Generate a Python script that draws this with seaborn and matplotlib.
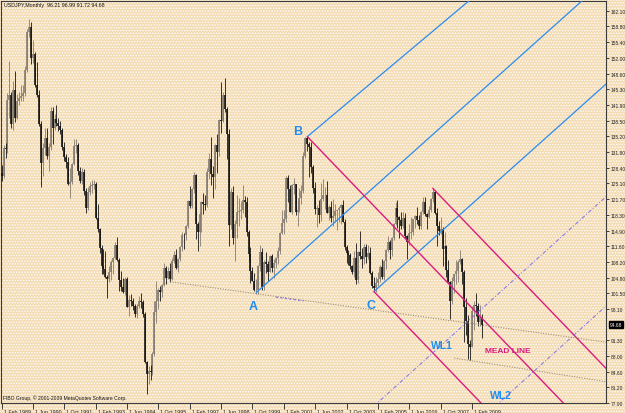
import numpy as np
import pandas as pd
import matplotlib
matplotlib.use("Agg")
import matplotlib.pyplot as plt
import matplotlib.transforms as mtransforms
from matplotlib.patches import Rectangle
import seaborn as sns

# ---------------- data (USDJPY monthly, Feb 1989 .. Jul 2009) ----------------
opens = [
    127.3, 126.6, 132.6, 132.5, 142.9, 144.0, 137.9, 145.1, 139.2, 142.8, 143.5,            # 1989 Feb-Dec
    143.8, 144.4, 149.5, 157.6, 158.6, 151.9, 152.9, 146.3, 144.1, 137.9, 129.4, 132.6,     # 1990
    134.8, 131.0, 132.9, 140.6, 137.0, 138.9, 138.1, 137.3, 136.6, 132.9, 130.8, 129.6,     # 1991
    124.9, 125.3, 129.2, 133.1, 133.2, 127.8, 125.6, 127.6, 123.4, 119.8, 123.1, 124.4,     # 1992
    124.8, 124.9, 117.6, 115.3, 111.1, 107.3, 106.6, 104.9, 104.5, 105.9, 108.2, 109.1,     # 1993
    111.9, 108.6, 104.3, 102.8, 101.8, 104.5, 98.5, 100.0, 99.8, 98.8, 97.0, 98.8,          # 1994
    99.7, 99.5, 97.0, 86.6, 84.1, 84.7, 84.6, 88.4, 97.4, 99.7, 102.1, 101.6,               # 1995
    103.3, 106.8, 104.8, 106.3, 104.4, 108.4, 109.7, 106.8, 108.9, 111.4, 114.0, 113.9,     # 1996
    115.9, 121.2, 120.2, 123.9, 126.9, 116.4, 114.6, 118.5, 121.0, 120.7, 120.5, 127.6,     # 1997
    130.3, 127.1, 126.5, 133.3, 131.8, 138.6, 138.4, 144.0, 141.1, 135.7, 116.2, 123.3,     # 1998
    113.3, 116.3, 118.9, 119.1, 119.4, 121.5, 121.1, 114.7, 109.9, 106.3, 104.1, 102.1,     # 1999
    102.2, 107.4, 110.3, 102.7, 108.1, 107.8, 106.1, 109.5, 106.8, 108.0, 109.0, 110.5,     # 2000
    114.4, 116.5, 117.4, 126.2, 123.8, 119.0, 124.7, 125.0, 118.9, 119.3, 122.0, 123.5,     # 2001
    131.0, 134.7, 133.6, 132.8, 128.6, 124.0, 119.5, 119.8, 118.2, 121.7, 122.5, 122.5,     # 2002
    118.7, 119.9, 117.7, 118.1, 119.1, 119.3, 119.8, 120.5, 116.8, 111.4, 110.0, 109.6,     # 2003
    107.2, 105.9, 109.1, 104.2, 110.4, 109.5, 108.9, 111.4, 109.2, 110.1, 105.8, 103.0,     # 2004
    102.6, 103.7, 104.6, 107.1, 104.9, 108.3, 110.8, 112.5, 110.7, 113.4, 116.4, 119.8,     # 2005
    117.8, 117.2, 115.9, 117.7, 113.7, 112.4, 114.4, 114.6, 117.4, 118.1, 117.1, 115.8,     # 2006
    119.0, 121.0, 118.4, 117.8, 119.4, 121.7, 123.2, 118.6, 115.8, 114.8, 115.3, 111.0,     # 2007
    111.7, 106.4, 103.9, 99.7, 104.0, 105.5, 106.2, 108.1, 108.8, 106.0, 98.5, 95.4,        # 2008
    90.6, 89.9, 97.6, 98.9, 98.6, 95.3, 96.21,                                              # 2009 Jan-Jul
]
highs = [
    129.0, 133.2, 133.8, 144.5, 151.4, 144.6, 147.0, 149.1, 144.3, 144.6, 146.1,
    146.3, 150.3, 158.3, 160.4, 159.7, 155.8, 153.2, 151.2, 145.2, 138.5, 133.8, 136.9,
    137.0, 133.7, 141.4, 141.4, 140.0, 142.0, 139.1, 138.5, 137.0, 133.9, 131.3, 130.7,
    128.4, 129.5, 134.6, 134.6, 133.8, 128.6, 128.4, 128.2, 124.0, 124.3, 125.3, 125.7,
    125.8, 125.3, 120.6, 115.5, 111.8, 111.0, 110.6, 105.4, 107.2, 108.6, 109.3, 112.5,
    113.6, 109.0, 106.2, 104.7, 105.0, 105.0, 101.0, 101.3, 100.4, 99.2, 99.2, 100.9,
    101.5, 99.9, 97.4, 86.9, 85.9, 86.0, 88.8, 99.8, 104.0, 102.6, 103.1, 103.5,
    107.9, 107.4, 107.0, 108.0, 109.0, 110.6, 111.0, 109.0, 111.6, 114.6, 114.3, 116.2,
    121.5, 124.5, 124.1, 127.5, 127.0, 116.8, 119.0, 121.2, 123.0, 122.6, 128.4, 131.6,
    135.0, 128.8, 133.6, 135.6, 138.8, 146.8, 144.6, 147.6, 141.4, 136.8, 124.0, 124.4,
    117.2, 122.5, 122.0, 121.2, 124.8, 122.4, 122.1, 115.0, 111.4, 107.0, 105.7, 104.5,
    107.5, 111.8, 111.2, 108.6, 110.2, 108.3, 109.7, 109.8, 108.8, 109.2, 111.4, 114.6,
    119.4, 119.3, 126.6, 126.9, 124.8, 125.0, 126.2, 125.0, 121.7, 124.0, 124.7, 131.9,
    135.0, 135.2, 134.0, 133.9, 129.0, 125.3, 120.4, 121.5, 125.1, 126.0, 124.3, 125.6,
    120.3, 121.2, 121.6, 120.6, 119.4, 120.1, 120.6, 121.4, 117.3, 111.8, 110.8, 110.0,
    107.6, 110.6, 112.2, 110.5, 114.9, 111.2, 112.0, 112.0, 111.8, 111.4, 106.3, 105.0,
    104.9, 106.1, 107.5, 108.8, 108.5, 111.0, 113.7, 112.8, 113.5, 116.5, 121.0, 121.4,
    118.0, 119.0, 119.0, 118.7, 114.0, 116.3, 117.8, 117.4, 118.3, 119.9, 118.3, 119.1,
    122.2, 122.2, 118.6, 120.2, 122.0, 124.1, 123.7, 119.8, 117.0, 117.9, 115.6, 114.7,
    111.8, 108.6, 104.0, 105.0, 105.5, 108.6, 108.6, 110.7, 109.1, 106.4, 100.5, 96.8,
    91.3, 98.8, 99.7, 101.4, 99.3, 98.9, 96.99,
]
lows = [
    125.6, 126.2, 130.5, 131.5, 139.0, 136.9, 136.5, 138.2, 138.8, 141.8, 142.7,
    142.8, 143.9, 148.9, 156.5, 150.8, 151.0, 145.7, 143.6, 137.4, 124.3, 126.7, 131.2,
    130.3, 127.7, 132.2, 133.6, 136.5, 137.4, 136.3, 135.6, 132.3, 129.8, 128.4, 124.8,
    122.0, 124.9, 129.0, 131.5, 126.9, 125.2, 125.0, 122.5, 118.6, 119.4, 122.6, 122.9,
    123.8, 117.3, 114.6, 110.0, 105.5, 105.6, 104.8, 100.4, 103.8, 104.2, 105.6, 108.7,
    108.4, 101.9, 101.9, 101.4, 101.0, 98.4, 96.6, 98.6, 97.9, 96.3, 96.2, 98.2,
    98.2, 96.3, 86.5, 79.8, 81.9, 82.9, 83.8, 88.0, 95.0, 98.0, 99.8, 100.6,
    103.0, 103.4, 104.5, 103.8, 104.2, 107.9, 106.7, 106.0, 108.4, 110.6, 110.9, 112.9,
    115.5, 119.8, 119.7, 123.0, 113.0, 110.6, 111.6, 114.7, 118.5, 119.3, 120.0, 125.9,
    124.7, 121.9, 123.9, 127.3, 131.0, 135.8, 138.2, 140.5, 130.3, 111.6, 115.2, 112.0,
    108.3, 113.3, 115.9, 117.4, 118.6, 117.8, 113.7, 108.6, 103.6, 104.0, 101.9, 101.3,
    101.3, 106.3, 102.2, 102.2, 105.7, 104.0, 105.9, 106.0, 104.7, 106.9, 107.8, 109.9,
    114.2, 114.2, 116.8, 121.0, 118.8, 118.5, 122.8, 118.3, 115.8, 119.0, 120.7, 123.0,
    130.4, 132.0, 126.4, 127.3, 122.9, 118.4, 115.6, 116.6, 117.0, 121.3, 119.6, 118.6,
    117.1, 116.8, 115.9, 116.7, 115.1, 116.8, 116.4, 116.7, 110.8, 107.9, 107.6, 106.7,
    105.6, 104.9, 103.4, 103.7, 108.7, 106.9, 107.8, 108.0, 108.7, 105.6, 102.5, 101.8,
    101.7, 103.1, 103.9, 104.4, 104.2, 106.6, 110.2, 108.8, 109.5, 112.9, 116.2, 115.4,
    113.4, 115.3, 115.5, 113.3, 108.9, 111.8, 113.2, 113.9, 115.4, 116.4, 115.2, 115.3,
    118.5, 118.0, 115.2, 117.6, 118.9, 121.1, 118.5, 111.6, 113.9, 114.2, 107.2, 110.1,
    104.9, 103.8, 95.8, 99.2, 101.4, 103.5, 103.8, 107.7, 103.5, 90.9, 92.5, 87.2,
    87.1, 89.8, 93.5, 96.5, 94.4, 94.5, 91.72,
]
closes = [
    126.6, 132.6, 132.5, 142.9, 144.0, 137.9, 145.1, 139.2, 142.8, 143.5, 143.8,
    144.4, 149.5, 157.6, 158.6, 151.9, 152.9, 146.3, 144.1, 137.9, 129.4, 132.6, 134.8,
    131.0, 132.9, 140.6, 137.0, 138.9, 138.1, 137.3, 136.6, 132.9, 130.8, 129.6, 124.9,
    125.3, 129.2, 133.1, 133.2, 127.8, 125.6, 127.6, 123.4, 119.8, 123.1, 124.4, 124.8,
    124.9, 117.6, 115.3, 111.1, 107.3, 106.6, 104.9, 104.5, 105.9, 108.2, 109.1, 111.9,
    108.6, 104.3, 102.8, 101.8, 104.5, 98.5, 100.0, 99.8, 98.8, 97.0, 98.8, 99.7,
    99.5, 97.0, 86.6, 84.1, 84.7, 84.6, 88.4, 97.4, 99.7, 102.1, 101.6, 103.3,
    106.8, 104.8, 106.3, 104.4, 108.4, 109.7, 106.8, 108.9, 111.4, 114.0, 113.9, 115.9,
    121.2, 120.2, 123.9, 126.9, 116.4, 114.6, 118.5, 121.0, 120.7, 120.5, 127.6, 130.3,
    127.1, 126.5, 133.3, 131.8, 138.6, 138.4, 144.0, 141.1, 135.7, 116.2, 123.3, 113.3,
    116.3, 118.9, 119.1, 119.4, 121.5, 121.1, 114.7, 109.9, 106.3, 104.1, 102.1, 102.2,
    107.4, 110.3, 102.7, 108.1, 107.8, 106.1, 109.5, 106.8, 108.0, 109.0, 110.5, 114.4,
    116.5, 117.4, 126.2, 123.8, 119.0, 124.7, 125.0, 118.9, 119.3, 122.0, 123.5, 131.0,
    134.7, 133.6, 132.8, 128.6, 124.0, 119.5, 119.8, 118.2, 121.7, 122.5, 122.5, 118.7,
    119.9, 117.7, 118.1, 119.1, 119.3, 119.8, 120.5, 116.8, 111.4, 110.0, 109.6, 107.2,
    105.9, 109.1, 104.2, 110.4, 109.5, 108.9, 111.4, 109.2, 110.1, 105.8, 103.0, 102.6,
    103.7, 104.6, 107.1, 104.9, 108.3, 110.8, 112.5, 110.7, 113.4, 116.4, 119.8, 117.8,
    117.2, 115.9, 117.7, 113.7, 112.4, 114.4, 114.6, 117.4, 118.1, 117.1, 115.8, 119.0,
    121.0, 118.4, 117.8, 119.4, 121.7, 123.2, 118.6, 115.8, 114.8, 115.3, 111.0, 111.7,
    106.4, 103.9, 99.7, 104.0, 105.5, 106.2, 108.1, 108.8, 106.0, 98.5, 95.4, 90.6,
    89.9, 97.6, 98.9, 98.6, 95.3, 96.4, 94.68,
]

# date axis: month index (0 = Feb 1989) and its labels
date_tick_months = [0, 16, 32, 48, 64, 80, 96, 112, 128, 144, 160, 176, 192, 208, 224, 240]
date_tick_labels = ["1 Feb 1989", "1 Jun 1990", "1 Oct 1991", "1 Feb 1993", "1 Jun 1994",
                    "1 Oct 1995", "1 Feb 1997", "1 Jun 1998", "1 Oct 1999", "1 Feb 2001",
                    "1 Jun 2002", "1 Oct 2003", "1 Feb 2005", "1 Jun 2006", "1 Oct 2007",
                    "1 Feb 2009"]
price_tick_labels = ["162.10", "158.80", "155.40", "152.00", "148.60", "145.30", "141.90",
                     "138.50", "135.20", "131.80", "128.40", "125.10", "121.70", "118.30",
                     "114.90", "111.60", "108.20", "104.80", "101.50", "98.10", "91.30",
                     "88.00", "84.60", "81.20", "77.90"]
last_price = 94.68

# hand-drawn lines: ([month0, month1], [price0, price1])
pitch_median_A = ([130, 310], [101.6, 169.5])
pitch_handle_B = ([156, 245], [135.1, 166.6])
pitch_handle_C = ([190, 310], [101.8, 147.0])
pink_from_B = ([156, 310], [135.1, 67.6])
pink_from_C = ([190, 260], [101.8, 71.1])
pink_from_D = ([220, 310], [124.0, 84.6])
warning_1 = ([190, 310], [77.2, 122.8])
warning_2 = ([252, 310], [77.2, 99.3])
trend_main = ([86, 309], [103.9, 90.9])
trend_low = ([231, 309], [87.5, 82.4])
trend_seg = ([140, 154], [100.6, 99.8])

# ---------------- style ----------------
sns.set_theme(style="white")
plt.rcParams["font.family"] = ["Liberation Sans", "DejaVu Sans"]
plt.rcParams["hatch.linewidth"] = 0.6

W, H = 625, 414
BG = "#F4DDB6"
fig = plt.figure(figsize=(W / 100, H / 100), dpi=100)
fig.patch.set_facecolor(BG)
fig.patches.append(Rectangle((0, 0), 1, 1, transform=fig.transFigure, facecolor=BG,
                             edgecolor="white", hatch="......", lw=0, zorder=-10))

ax = fig.add_axes([1 / W, 10 / H, 605 / W, 402 / H])
ax.set_facecolor("none")

df = pd.DataFrame({"m": np.arange(len(closes)), "o": opens, "h": highs, "l": lows, "c": closes})
df["top"] = df[["o", "c"]].max(axis=1)
df["bot"] = df[["o", "c"]].min(axis=1)
up = df["c"] >= df["o"]
BULL, BEAR = "#857b70", "#141414"
for mask, col in ((up, BULL), (~up, BEAR)):
    d = df[mask]
    ax.vlines(d["m"], d["l"], d["h"], color=col, lw=0.6, zorder=3)
    ax.vlines(d["m"], d["bot"], d["top"], color=col, lw=1.2, zorder=3)

BLUE, PINK, PURP, BROWN = "#2A8CF0", "#DA1C7E", "#7F6FE8", "#8C7A68"


def draw(line, color, lw, ls):
    sns.lineplot(x=line[0], y=line[1], ax=ax, color=color, lw=lw, linestyle=ls,
                 legend=False, zorder=4)


for ln in (pitch_median_A, pitch_handle_B, pitch_handle_C):
    draw(ln, BLUE, 0.9, "-")
for ln in (pink_from_B, pink_from_C, pink_from_D):
    draw(ln, PINK, 1.0, "-")
for ln in (warning_1, warning_2):
    draw(ln, PURP, 0.7, (0, (4, 2, 1, 2)))
for ln in (trend_main, trend_low):
    draw(ln, BROWN, 0.7, (0, (1, 1.6)))
draw(trend_seg, PURP, 0.8, (0, (2, 2)))

ax.set_xlim(-0.3, 308.4)
ax.set_ylim(77.85, 164.25)

# labels on chart
ax.text(128.6, 98.6, "A", color="#1E8CF0", fontsize=9, fontweight="bold", ha="center", va="center", zorder=6)
ax.text(151.0, 136.3, "B", color="#1E8CF0", fontsize=9, fontweight="bold", ha="center", va="center", zorder=6)
ax.text(188.3, 99.0, "C", color="#1E8CF0", fontsize=9, fontweight="bold", ha="center", va="center", zorder=6)
ax.text(224.5, 90.3, "WL1", color="#1E8CF0", fontsize=7.5, fontweight="bold", ha="center", va="center", zorder=6)
ax.text(254.6, 79.6, "WL2", color="#1E8CF0", fontsize=7.5, fontweight="bold", ha="center", va="center", zorder=6)
ax.text(258.2, 89.2, "MEAD LINE", color=PINK, fontsize=6, fontweight="bold", ha="center", va="center", zorder=6)

# axes / ticks
for s in ax.spines.values():
    s.set_visible(True)
    s.set_color("#3a3a3a")
    s.set_linewidth(0.8)

price_tick_values = [float(t) for t in price_tick_labels]
ax.set_yticks(price_tick_values)
ax.set_yticklabels(price_tick_labels)
ax.tick_params(axis="y", which="both", left=False, right=True, labelleft=False, labelright=True,
               length=2.5, width=0.6, labelsize=3.5, pad=1.0, colors="#222222", direction="out")
ax.set_xticks(date_tick_months)
ax.set_xticklabels(date_tick_labels)
ax.tick_params(axis="x", bottom=True, length=4, width=0.6, labelsize=3.8, pad=0.5,
               colors="#222222", direction="out")
offset = mtransforms.ScaledTranslation(2 / 100, 0, fig.dpi_scale_trans)
for lbl in ax.get_xticklabels():
    lbl.set_horizontalalignment("left")
    lbl.set_transform(lbl.get_transform() + offset)

trans = mtransforms.blended_transform_factory(ax.transAxes, ax.transData)
ax.text(1.0 + 4 / 605, last_price, "94.68", transform=trans, fontsize=3.5, color="white",
        ha="left", va="center", clip_on=False,
        bbox=dict(boxstyle="square,pad=0.2", fc="black", ec="black"))

fig.text(4 / W, 1 - 6 / H, "USDJPY,Monthly  96.21 96.99 91.72 94.68", fontsize=3.8,
         ha="left", va="center", color="#111111")
fig.text(3 / W, 1 - 398 / H, "FIBO Group, \u00a9 2001-2009 MetaQuotes Software Corp.", fontsize=3.6,
         ha="left", va="center", color="#111111")

fig.savefig("out.png", dpi=100, facecolor=fig.get_facecolor())
